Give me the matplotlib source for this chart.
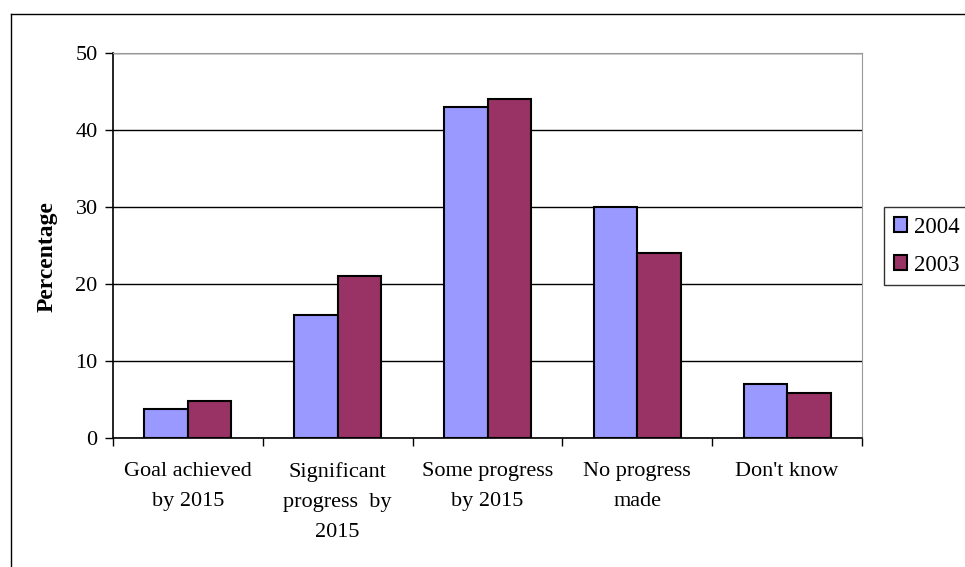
import matplotlib
matplotlib.use("Agg")
import matplotlib.pyplot as plt
import numpy as np
from matplotlib.lines import Line2D

categories = ["Goal achieved\nby 2015", "Significant\nprogress  by\n2015", "Some progress\nby 2015", "No progress\nmade", "Don't know"]
series_names = ["2004", "2003"]
values_2004 = [3.8, 16, 43, 30, 7]
values_2003 = [4.8, 21, 44, 24, 5.8]
yticks = [0, 10, 20, 30, 40, 50]
colors = ["#9999ff", "#993366"]

plt.rcParams['font.family'] = ['Liberation Serif', 'DejaVu Serif']

W, H = 965, 567
fig = plt.figure(figsize=(W/100, H/100), dpi=100)
ax = fig.add_axes([113/W, 1-438/H, 749/W, 385/H])

x = np.arange(len(categories))
bw = 0.29
ax.bar(x - bw/2, values_2004, bw, color=colors[0], edgecolor="black", linewidth=1.5, label=series_names[0], zorder=3)
ax.bar(x + bw/2, values_2003, bw, color=colors[1], edgecolor="black", linewidth=1.5, label=series_names[1], zorder=3)

ax.set_xlim(-0.5, len(categories)-0.5)
ax.set_ylim(0, 50)
ax.set_yticks(yticks)
ax.set_yticklabels([str(t) for t in yticks], fontsize=16)
ax.yaxis.grid(True, color="black", linewidth=1)
ax.set_axisbelow(True)

ax.set_xticks(np.arange(len(categories)+1) - 0.5, minor=False)
ax.set_xticklabels([])
ax.tick_params(axis='x', direction='out', length=6, width=1)
ax.tick_params(axis='y', direction='out', length=6, width=1, pad=5)
for i, c in enumerate(categories):
    ax.text(i, -3.1, c, ha='center', va='top', fontsize=16, linespacing=1.78,
            transform=ax.transData)

for s in ['top', 'right']:
    ax.spines[s].set_color('#999999')
ax.spines['left'].set_color('black')
ax.spines['bottom'].set_color('black')
ax.spines['left'].set_linewidth(1.2)
ax.spines['bottom'].set_linewidth(1.2)

fig.text(47/W, 1-257/H, "Percentage", rotation=90, ha='center', va='center', fontsize=17, fontweight='bold')

leg = ax.legend(loc='upper left', bbox_to_anchor=(884/W, 1-207/H), bbox_transform=fig.transFigure,
                fontsize=16.5, frameon=True, fancybox=False, edgecolor='black', handlelength=0.6,
                handleheight=0.6, handletextpad=0.3, borderpad=0.42, labelspacing=0.75, borderaxespad=0)
leg.get_frame().set_linewidth(1)

fig.add_artist(Line2D([10.5/W, 10.5/W], [0, 1-13.5/H], transform=fig.transFigure, color='black', linewidth=1))
fig.add_artist(Line2D([10.5/W, 1], [1-13.5/H, 1-13.5/H], transform=fig.transFigure, color='black', linewidth=1))

fig.savefig("out.png", dpi=100)
